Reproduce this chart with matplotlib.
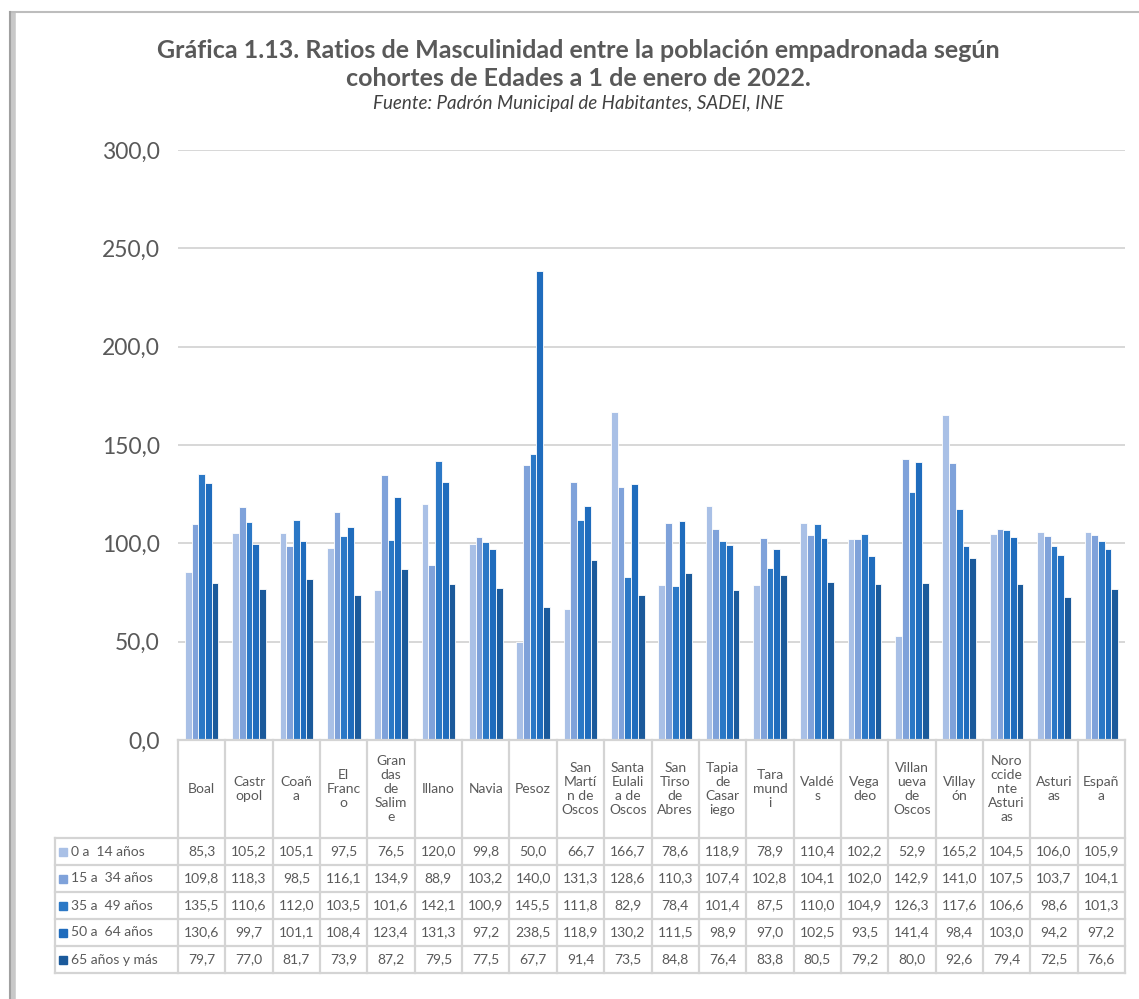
import matplotlib.pyplot as plt
import matplotlib.transforms as mtransforms
from matplotlib.patches import Rectangle
from matplotlib.lines import Line2D
import numpy as np

plt.rcParams['font.family'] = ['Lato', 'DejaVu Sans']

# municipios tal como salen en la cabecera de la tabla (con sus cortes)
municipios = ["Boal", "Castr\nopol", "Coañ\na", "El\nFranc\no", "Gran\ndas\nde\nSalim\ne",
              "Illano", "Navia", "Pesoz", "San\nMartí\nn de\nOscos", "Santa\nEulali\na de\nOscos",
              "San\nTirso\nde\nAbres", "Tapia\nde\nCasar\niego", "Tara\nmund\ni", "Valdé\ns",
              "Vega\ndeo", "Villan\nueva\nde\nOscos", "Villay\nón", "Noro\nccide\nnte\nAsturi\nas",
              "Asturi\nas", "Españ\na"]

cohortes = ["0 a  14 años", "15 a  34 años", "35 a  49 años", "50 a  64 años", "65 años y más"]

edad_0_14 = [85.3, 105.2, 105.1, 97.5, 76.5, 120.0, 99.8, 50.0, 66.7, 166.7,
             78.6, 118.9, 78.9, 110.4, 102.2, 52.9, 165.2, 104.5, 106.0, 105.9]
edad_15_34 = [109.8, 118.3, 98.5, 116.1, 134.9, 88.9, 103.2, 140.0, 131.3, 128.6,
              110.3, 107.4, 102.8, 104.1, 102.0, 142.9, 141.0, 107.5, 103.7, 104.1]
edad_35_49 = [135.5, 110.6, 112.0, 103.5, 101.6, 142.1, 100.9, 145.5, 111.8, 82.9,
              78.4, 101.4, 87.5, 110.0, 104.9, 126.3, 117.6, 106.6, 98.6, 101.3]
edad_50_64 = [130.6, 99.7, 101.1, 108.4, 123.4, 131.3, 97.2, 238.5, 118.9, 130.2,
              111.5, 98.9, 97.0, 102.5, 93.5, 141.4, 98.4, 103.0, 94.2, 97.2]
edad_65 = [79.7, 77.0, 81.7, 73.9, 87.2, 79.5, 77.5, 67.7, 91.4, 73.5,
           84.8, 76.4, 83.8, 80.5, 79.2, 80.0, 92.6, 79.4, 72.5, 76.6]

series = [edad_0_14, edad_15_34, edad_35_49, edad_50_64, edad_65]
colores = ['#a9c0e6', '#7fa2da', '#2b78c6', '#1f6cbd', '#1b5a9b']
gris = '#595959'
linea = '#d4d4d4'

W, H = 1139, 999
fig = plt.figure(figsize=(W / 100, H / 100), dpi=100)

def fx(px):
    return px / W

def fy(py):
    return 1 - py / H

# marco del grafico con sombra
fig.add_artist(Line2D([fx(13), fx(13)], [fy(15), 0], color='#c8c8c8', lw=4, transform=fig.transFigure))
fig.add_artist(Line2D([fx(10), 1], [fy(12), fy(12)], color='#bdbdbd', lw=1.5, transform=fig.transFigure))
fig.add_artist(Line2D([fx(10), fx(10)], [fy(12), 0], color='#a0a0a0', lw=1.5, transform=fig.transFigure))

ax_l, ax_r, ax_t, ax_b = 178, 1125, 150, 740
ax = fig.add_axes([fx(ax_l), fy(ax_b), fx(ax_r - ax_l), (ax_b - ax_t) / H])

n = len(municipios)
x = np.arange(n)
ancho = 0.142
for k, vals in enumerate(series):
    ax.bar(x + (k - 2) * ancho, vals, width=ancho, color=colores[k],
           edgecolor='white', linewidth=0.6, zorder=3)

ax.set_xlim(-0.5, n - 0.5)
ax.set_ylim(0, 300)
ax.set_yticks(np.arange(0, 301, 50))
ax.set_yticklabels([f"{v:.1f}".replace('.', ',') for v in np.arange(0, 301, 50)],
                   fontsize=16.5, color=gris)
ax.yaxis.grid(True, color=linea, lw=1.3, zorder=0)
ax.tick_params(axis='y', length=0, pad=13)
ax.tick_params(axis='x', length=0, labelbottom=False)
for s in ax.spines.values():
    s.set_visible(False)

# tabla de datos
trans = mtransforms.blended_transform_factory(ax.transData, fig.transFigure)
ftrans = fig.transFigure
top, head_b, row_h = 740, 838, 27
n_rows = len(series)
bottom = head_b + n_rows * row_h

for i in range(n + 1):
    ax.add_line(Line2D([i - 0.5, i - 0.5], [fy(top), fy(bottom)], color=linea, lw=1.6,
                       transform=trans, clip_on=False))
fig.add_artist(Line2D([fx(55), fx(55)], [fy(head_b), fy(bottom)], color=linea, lw=1.6, transform=ftrans))
fig.add_artist(Line2D([fx(ax_l), fx(ax_r)], [fy(top), fy(top)], color=linea, lw=1.6, transform=ftrans))
for r in range(n_rows + 1):
    yy = fy(head_b + r * row_h)
    fig.add_artist(Line2D([fx(55), fx(ax_r)], [yy, yy], color=linea, lw=1.6, transform=ftrans))

for i, nombre in enumerate(municipios):
    ax.text(i, fy((top + head_b) / 2), nombre, transform=trans, ha='center', va='center',
            fontsize=10, color=gris, linespacing=1.2, clip_on=False)
    for r, vals in enumerate(series):
        ax.text(i, fy(head_b + r * row_h + row_h / 2), f"{vals[i]:.1f}".replace('.', ','),
                transform=trans, ha='center', va='center', fontsize=10, color=gris, clip_on=False)

for r, lab in enumerate(cohortes):
    yc = head_b + r * row_h + row_h / 2
    fig.add_artist(Rectangle((fx(59), fy(yc + 4)), fx(8), 8 / H, color=colores[r], transform=ftrans))
    fig.text(fx(71), fy(yc), lab, ha='left', va='center', fontsize=10, color=gris)

# titulo
fig.text(fx(578), fy(50), "Gráfica 1.13. Ratios de Masculinidad entre la población empadronada según",
         ha='center', va='center', fontsize=18, fontweight='bold', color=gris)
fig.text(fx(578), fy(78), "cohortes de Edades a 1 de enero de 2022.",
         ha='center', va='center', fontsize=18, fontweight='bold', color=gris)
fig.text(fx(578), fy(103), "Fuente: Padrón Municipal de Habitantes, SADEI, INE",
         ha='center', va='center', fontsize=13.5, style='italic', color='#404040')

fig.savefig('out.png', dpi=100)
